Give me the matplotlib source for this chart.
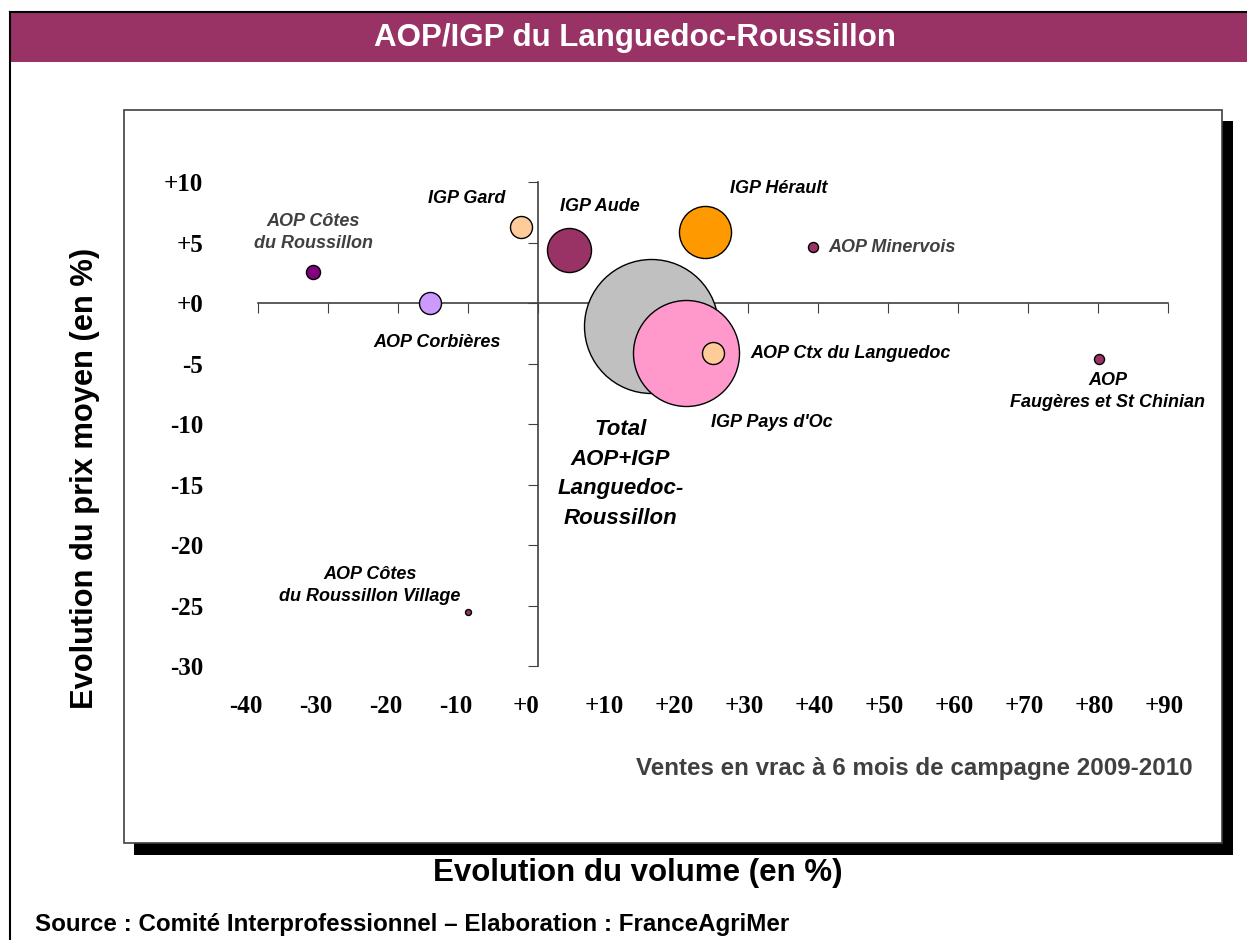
import matplotlib.pyplot as plt
from matplotlib.patches import Rectangle
from matplotlib.lines import Line2D
from matplotlib.transforms import ScaledTranslation

# Données
noms = ["Total\nAOP+IGP\nLanguedoc-\nRoussillon", "IGP Pays d'Oc", "AOP Ctx du Languedoc",
        "AOP Côtes\ndu Roussillon", "AOP Corbières", "IGP Gard", "IGP Aude", "IGP Hérault",
        "AOP Minervois", "AOP\nFaugères et St Chinian", "AOP Côtes\ndu Roussillon Village"]
evol_volume = [16.1, 21.1, 25.0, -32.1, -15.4, -2.4, 4.4, 23.8, 39.3, 80.2, -10.0]
evol_prix = [-1.9, -4.1, -4.1, 2.6, 0.0, 6.3, 4.4, 5.9, 4.6, -4.6, -25.5]
volumes = [100, 62.6, 2.7, 1.1, 2.7, 2.7, 10.8, 15.1, 0.56, 0.56, 0.2]
couleurs = ["#C0C0C0", "#FF99CC", "#FFCC99", "#800080", "#CC99FF", "#FFCC99", "#993366",
            "#FF9900", "#993366", "#993366", "#993366"]

# position des étiquettes (décalage en pixels par rapport à la bulle)
decalages = [(-30, -148), (86, -70), (37, -1), (0, 39), (7, -39), (-55, 28), (31, 43),
             (74, 43), (15, 0), (8, -33), (-98, 26)]
alignements = ["center", "center", "left", "center", "center", "center", "center",
               "center", "left", "center", "center"]
couleurs_txt = ["black", "black", "black", "#404040", "black", "black", "black",
                "black", "#404040", "black", "black"]

ticks_x = list(range(-40, 100, 10))
ticks_y = list(range(-30, 15, 5))

W, H = 1247, 940


def px(x, y):
    return x / W, 1 - y / H


def fmt(v):
    return f"{v:+d}" if v >= 0 else f"{v:d}"


fig = plt.figure(figsize=(W / 100, H / 100), dpi=100)
fig.patch.set_facecolor("white")

# cadre et bandeau de titre
fig.add_artist(Line2D([10 / W, 1], [1 - 12 / H] * 2, color="black", lw=1.5))
fig.add_artist(Line2D([10 / W] * 2, [0, 1 - 12 / H], color="black", lw=1.5))
fig.add_artist(Rectangle(px(11, 62), (W - 11) / W, 49 / H, color="#993366", lw=0))
fig.text(px(635, 38)[0], px(635, 38)[1], "AOP/IGP du Languedoc-Roussillon", color="white",
         fontsize=22.5, fontweight="bold", family="Liberation Sans", ha="center", va="center")

# zone du graphique avec ombre
fig.add_artist(Rectangle(px(134, 855), 1099 / W, 734 / H, color="black", lw=0, zorder=-2))
fig.add_artist(Rectangle(px(124, 843), 1098 / W, 733 / H, facecolor="white",
                         edgecolor="#404040", lw=1.2, zorder=-1))

# axes : x=0 -> 538 px, 7 px/unité ; y=0 -> 303 px, 12.1 px/unité
x0, x1, y0, y1 = 150, 1200, 140, 740
ax = fig.add_axes([x0 / W, 1 - y1 / H, (x1 - x0) / W, (y1 - y0) / H])
ax.set_zorder(2)
ax.set_xlim((x0 - 538) / 7, (x1 - 538) / 7)
ax.set_ylim((303 - y1) / 12.1, (303 - y0) / 12.1)
ax.patch.set_alpha(0)

for s in ["top", "right"]:
    ax.spines[s].set_visible(False)
ax.spines["left"].set_position(("data", 0))
ax.spines["bottom"].set_position(("data", 0))
ax.spines["left"].set_bounds(-30, 10)
ax.spines["bottom"].set_bounds(-40, 90)
for s in ["left", "bottom"]:
    ax.spines[s].set_color("#404040")
    ax.spines[s].set_linewidth(1.2)
ax.set_xticks(ticks_x)
ax.set_yticks(ticks_y)
ax.tick_params(axis="x", direction="out", length=7, color="#404040", labelbottom=False)
ax.tick_params(axis="y", direction="out", length=7, color="#404040", labelleft=False)

# étiquettes des graduations en bord de graphique (style Excel)
sec_x = ax.secondary_xaxis((y1 - 692) / (y1 - y0))
sec_x.set_xticks(ticks_x, [fmt(v) for v in ticks_x])
sec_x.tick_params(length=0, pad=2)
sec_x.spines["bottom"].set_visible(False)
for v, lab in zip(ticks_x, sec_x.get_xticklabels()):
    lab.set_fontfamily("Liberation Serif")
    lab.set_fontweight("bold")
    lab.set_fontsize(18)
    dx = -12 if v <= 0 else -4
    lab.set_transform(lab.get_transform() + ScaledTranslation(dx / 100, 0, fig.dpi_scale_trans))

sec_y = ax.secondary_yaxis((206 - x0) / (x1 - x0))
sec_y.set_yticks(ticks_y, [fmt(v) for v in ticks_y])
sec_y.tick_params(length=0, pad=2)
sec_y.spines["left"].set_visible(False)
for lab in sec_y.get_yticklabels():
    lab.set_fontfamily("Liberation Serif")
    lab.set_fontweight("bold")
    lab.set_fontsize(18)

# bulles (aire proportionnelle au volume)
taille_ref = (1.44 * 67) ** 2
for i in range(len(noms)):
    ax.scatter(evol_volume[i], evol_prix[i], s=volumes[i] / 100 * taille_ref,
               color=couleurs[i], edgecolors="black", linewidths=1, zorder=3)
    taille = 16 if i == 0 else 13
    ax.annotate(noms[i], (evol_volume[i], evol_prix[i]), xytext=decalages[i],
                textcoords="offset pixels", ha=alignements[i], va="center",
                fontsize=taille, fontweight="bold", fontstyle="italic",
                family="Liberation Sans", color=couleurs_txt[i],
                linespacing=1.4 if i != 0 else 1.55, zorder=4)

fig.text(px(1193, 768)[0], px(1193, 768)[1], "Ventes en vrac à 6 mois de campagne 2009-2010",
         ha="right", va="center", fontsize=17.4, fontweight="bold", color="#404040",
         family="Liberation Sans")

fig.text(px(85, 478)[0], px(85, 478)[1], "Evolution du prix moyen (en %)", rotation=90,
         ha="center", va="center", fontsize=22.2, fontweight="bold", family="Liberation Sans")
fig.text(px(638, 873)[0], px(638, 873)[1], "Evolution du volume (en %)",
         ha="center", va="center", fontsize=22.5, fontweight="bold", family="Liberation Sans")
fig.text(px(35, 925)[0], px(35, 925)[1],
         "Source : Comité Interprofessionnel – Elaboration : FranceAgriMer",
         ha="left", va="center", fontsize=17.4, fontweight="bold", family="Liberation Sans")

fig.savefig("out.png", dpi=100)
